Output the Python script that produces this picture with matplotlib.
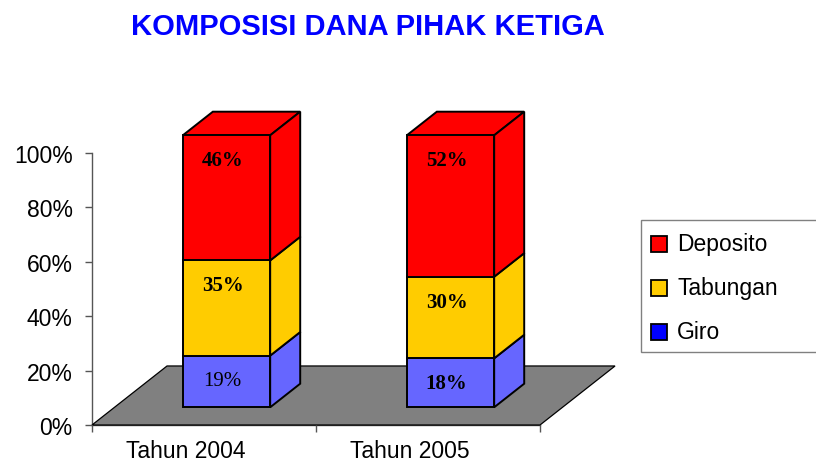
import matplotlib
matplotlib.use("Agg")
import matplotlib.pyplot as plt
from matplotlib.patches import Polygon, Rectangle

# ---------------- data ----------------
categories = ["Tahun 2004", "Tahun 2005"]
series_names = ["Giro", "Tabungan", "Deposito"]
giro = [19, 18]
tabungan = [35, 30]
deposito = [46, 52]
y_ticks = [0, 20, 40, 60, 80, 100]
y_tick_labels = ["0%", "20%", "40%", "60%", "80%", "100%"]
title = "KOMPOSISI DANA PIHAK KETIGA"

# ---------------- style ----------------
bar_colors = ["#6666FF", "#FFCC00", "#FF0000"]
legend_colors = {"Deposito": "#FF0000", "Tabungan": "#FFCC00", "Giro": "#0000FF"}
label_weights = [["normal", "bold", "bold"], ["bold", "bold", "bold"]]
SANS = "Liberation Sans"
SERIF = "Liberation Serif"

W, H = 816, 464
fig = plt.figure(figsize=(W / 100, H / 100), dpi=100)


def fx(px):
    return px / W


def fy(py):
    return 1 - py / H


ax = fig.add_axes([fx(92), fy(426), 448 / W, 272 / H])
ax.set_xlim(0, 2)
ax.set_ylim(0, 100)

# 3D projection (depth z in [0,1] of the floor)
DX = 0.335   # x-shift at full depth (data units)
DY = 21.7    # y-shift at full depth (percent units)
BAR_W = 0.39
Z0, Z1 = 0.3, 0.7


def P(x, y, z):
    return (x + z * DX, y + z * DY)


# floor
n = len(categories)
floor = Polygon([P(0, 0, 0), P(n, 0, 0), P(n, 0, 1), P(0, 0, 1)], closed=True,
                facecolor="#808080", edgecolor="black", lw=0.9, clip_on=False, zorder=1)
ax.add_patch(floor)

series = [giro, tabungan, deposito]
for i in range(n):
    c = i + 0.5
    x0, x1 = c - BAR_W / 2, c + BAR_W / 2
    bottom = 0
    for s, vals in enumerate(series):
        v = vals[i]
        top = bottom + v
        col = bar_colors[s]
        kw = dict(closed=True, facecolor=col, edgecolor="black", lw=1.4,
                  clip_on=False, zorder=2 + s, joinstyle="miter")
        topface = [P(x0, top, Z0), P(x1, top, Z0), P(x1, top, Z1), P(x0, top, Z1)]
        side = [P(x1, bottom, Z0), P(x1, bottom, Z1), P(x1, top, Z1), P(x1, top, Z0)]
        front = [P(x0, bottom, Z0), P(x1, bottom, Z0), P(x1, top, Z0), P(x0, top, Z0)]
        for poly in (topface, side, front):
            ax.add_patch(Polygon(poly, **kw))
        lx, ly = P(c, top, Z0)
        ax.annotate(f"{v}%", (lx, ly), xytext=(-4, -25), textcoords="offset pixels",
                    ha="center", va="center", fontsize=15, family=SERIF,
                    fontweight=label_weights[i][s], color="black", zorder=10,
                    annotation_clip=False)
        bottom = top

# axes styling
for sp in ["top", "right"]:
    ax.spines[sp].set_visible(False)
for sp in ["left", "bottom"]:
    ax.spines[sp].set_color("#555555")
    ax.spines[sp].set_linewidth(1.0)
    ax.spines[sp].set_zorder(0.5)

ax.set_yticks(y_ticks, y_tick_labels)
ax.tick_params(axis="y", direction="out", length=5, width=1, color="#555555",
               pad=9, labelsize=16.5)
ax.set_xticks([0.42 + k for k in range(n)], categories)
ax.tick_params(axis="x", which="major", length=0, pad=10, labelsize=16.5)
ax.set_xticks(list(range(n + 1)), minor=True)
ax.tick_params(axis="x", which="minor", direction="out", length=5, width=1,
               color="#555555")
for lab in ax.get_xticklabels() + ax.get_yticklabels():
    lab.set_family(SANS)
ax.patch.set_alpha(0)

# title
fig.text(fx(368), fy(35), title, ha="center", va="baseline", fontsize=21,
         fontweight="bold", color="#0000FF", family=SANS)

# legend (drawn manually)
fig.patches.append(Rectangle((fx(641), fy(353)), fx(830) - fx(641), fy(221) - fy(353),
                             transform=fig.transFigure, facecolor="white",
                             edgecolor="#808080", lw=1.0))
leg_items = ["Deposito", "Tabungan", "Giro"]
leg_centers = [244.5, 289, 332.5]
for name, cy in zip(leg_items, leg_centers):
    sq = 16
    fig.patches.append(Rectangle((fx(651), fy(cy + sq / 2)), sq / W, sq / H,
                                 transform=fig.transFigure,
                                 facecolor=legend_colors[name], edgecolor="black", lw=1.3))
    fig.text(fx(677), fy(cy + 6.5), name, ha="left", va="baseline", fontsize=16.5,
             family=SANS, color="black")

fig.savefig("out.png", dpi=100)
